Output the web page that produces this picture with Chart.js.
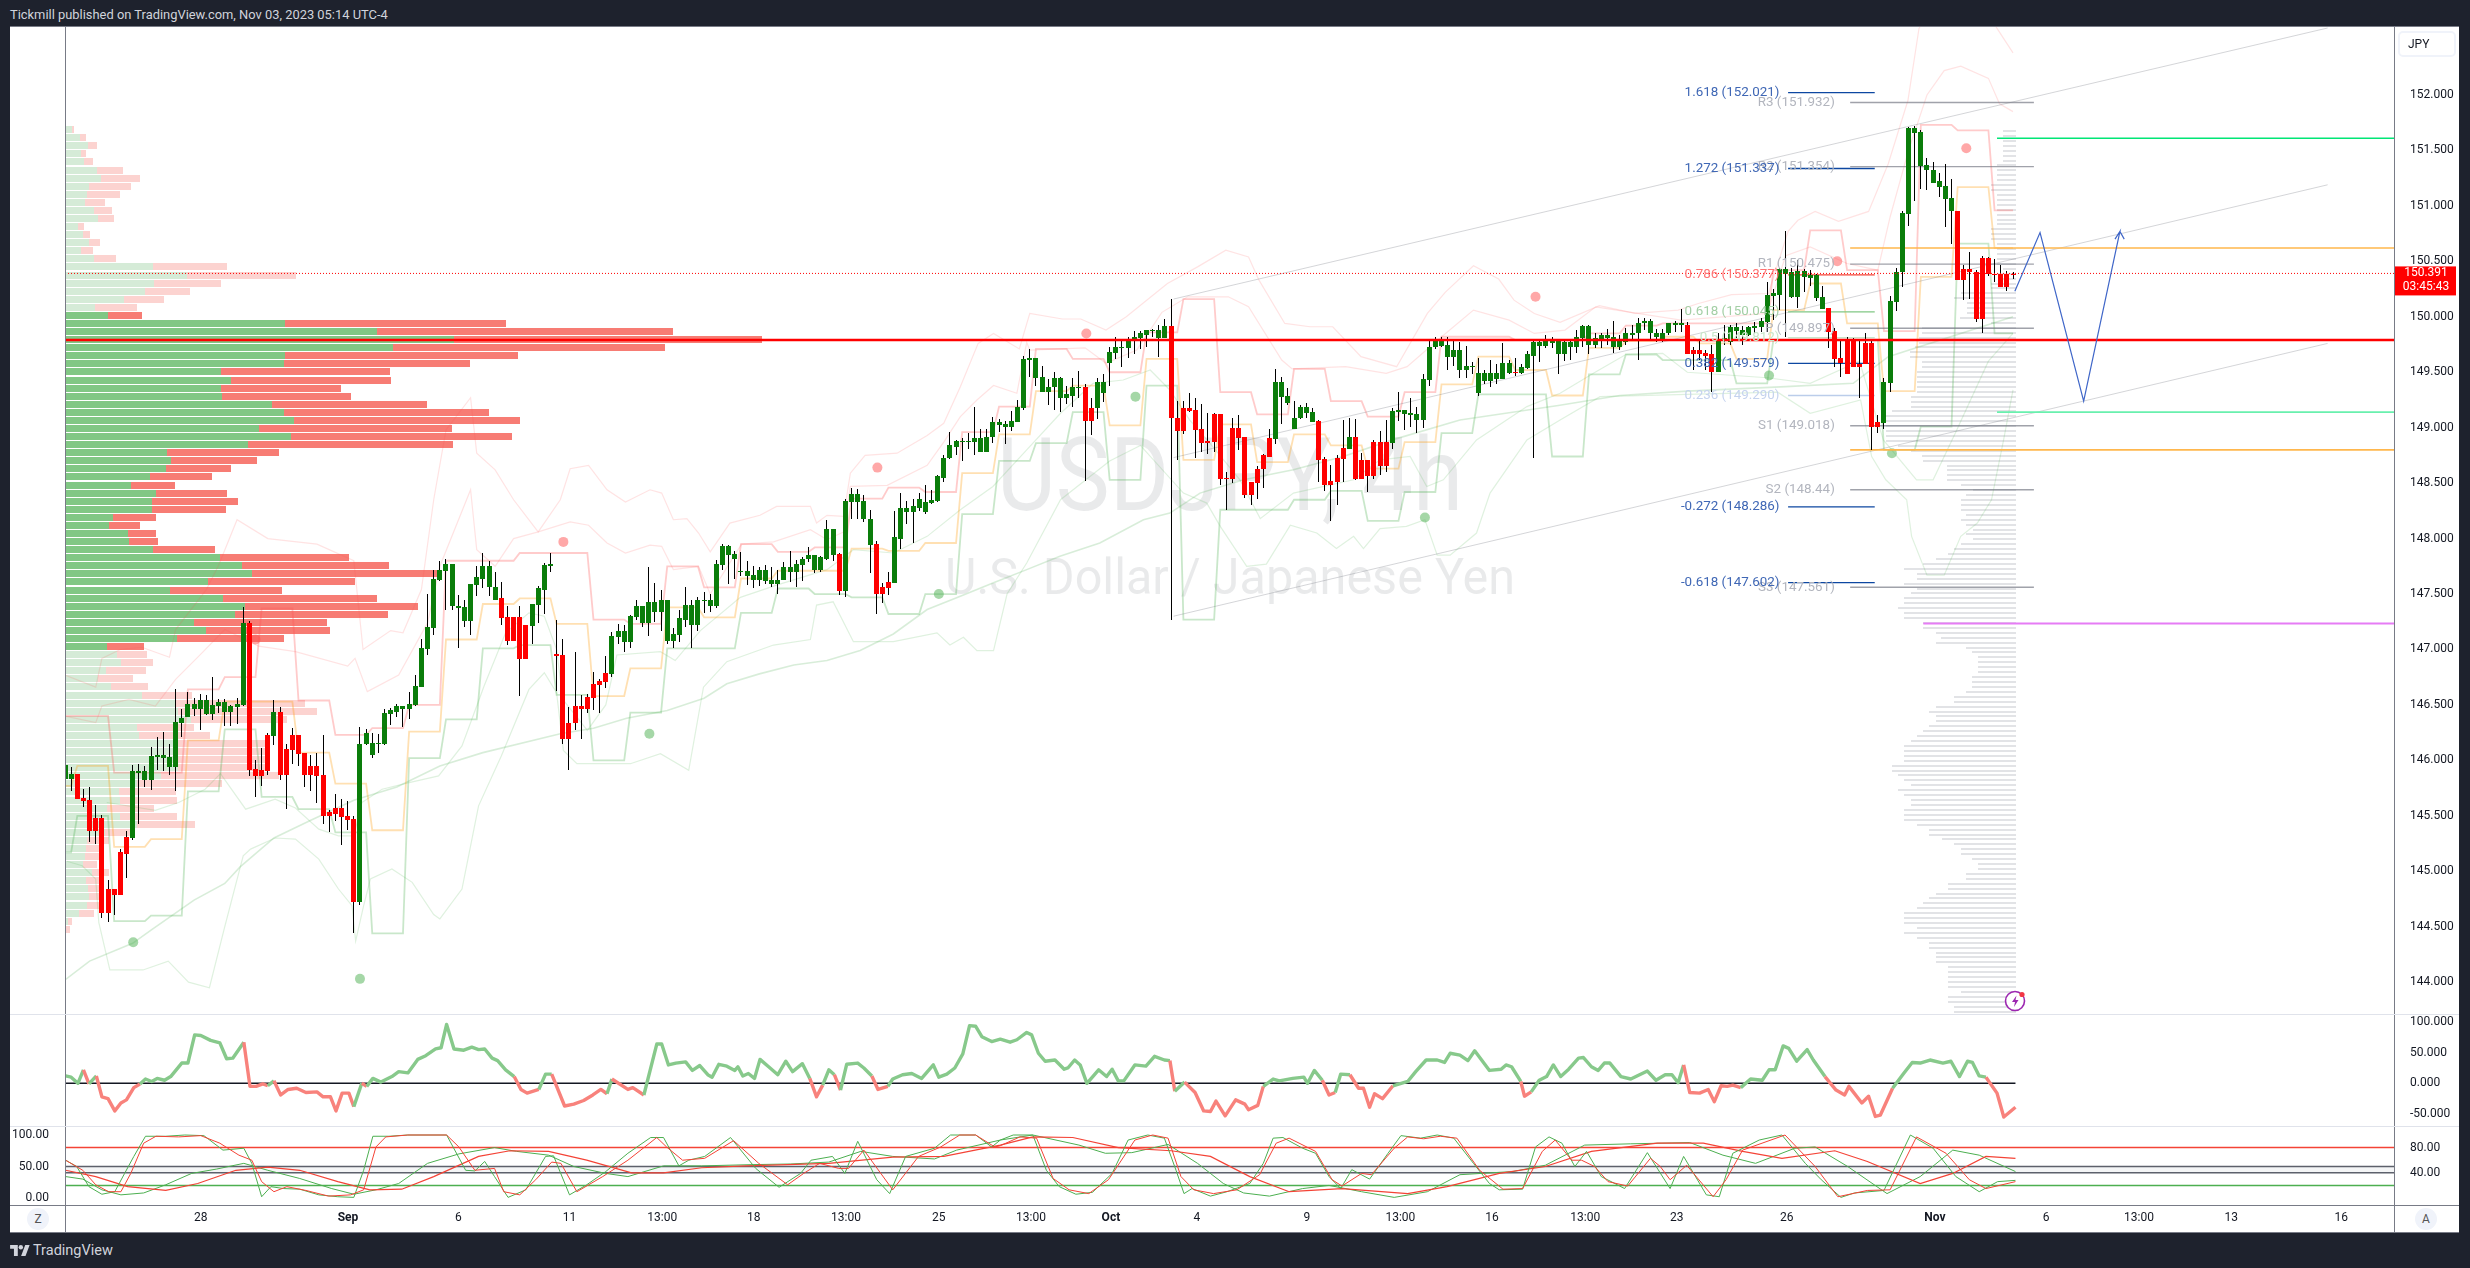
<!DOCTYPE html>
<html>
<head>
<meta charset="utf-8">
<style>
html,body{margin:0;padding:0;width:2470px;height:1268px;overflow:hidden;background:#1e222d;font-family:Roboto,Arial,sans-serif}
#panel{position:absolute;left:10px;top:27px;width:2449px;height:1205px;background:#fff}
canvas{position:absolute;display:block}
.ln{position:absolute;z-index:8}
.t{position:absolute;white-space:nowrap}
</style>
<script src="https://cdn.jsdelivr.net/npm/chart.js@4"></script>
</head>
<body>
<div class="t" style="left:10px;top:6px;font-size:12.9px;line-height:18px;color:#d1d4dc">Tickmill published on TradingView.com, Nov 03, 2023 05:14 UTC-4</div>
<div id="panel"></div>
<canvas id="cVP" width="2449" height="987" style="left:11px;top:27px;z-index:1"></canvas>
<canvas id="cPrice" width="2449" height="987" style="left:11px;top:27px;z-index:2"></canvas>
<canvas id="cCci" width="2449" height="112" style="left:11px;top:1014px;z-index:2"></canvas>
<canvas id="cStoch" width="2449" height="105" style="left:11px;top:1127px;z-index:2"></canvas>
<div class="ln" style="left:10px;top:26px;width:2449px;height:1px;background:#787b86"></div>
<div class="ln" style="left:65px;top:27px;width:1px;height:1205px;background:#787b86"></div>
<div class="ln" style="left:2394px;top:27px;width:1px;height:1205px;background:#787b86"></div>
<div class="ln" style="left:10px;top:1014px;width:2449px;height:1px;background:#e0e3eb"></div>
<div class="ln" style="left:10px;top:1126px;width:2449px;height:1px;background:#e0e3eb"></div>
<div class="ln" style="left:10px;top:1205px;width:2449px;height:1px;background:#787b86"></div>
<div class="ln" style="left:10px;top:1232px;width:2449px;height:1px;background:#787b86"></div>
<div class="t" style="z-index:9;left:2398px;top:31px;width:58px;height:26px;border:2px solid #f0f3fa;border-radius:5px;box-sizing:border-box;font-size:12px;line-height:22px;color:#131722;padding-left:8px">JPY</div>
<div class="t" style="z-index:9;left:27px;top:1208px;width:22px;height:22px;border-radius:11px;background:#f0f3fa;font-size:12px;line-height:22px;color:#555;text-align:center">Z</div>
<div class="t" style="z-index:9;left:2415px;top:1208px;width:22px;height:22px;border-radius:11px;background:#f0f3fa;font-size:12px;line-height:22px;color:#555;text-align:center">A</div>
<svg style="position:absolute;z-index:9;left:2004px;top:989px" width="24" height="24" viewBox="0 0 24 24"><circle cx="11" cy="12" r="9.5" fill="#fff" stroke="#9c27b0" stroke-width="1.6"/><path d="M12.5 6.5 8 13h3l-1 5 4.5-7h-3z" fill="#9c27b0"/><circle cx="18" cy="5.5" r="2.6" fill="#f23645"/></svg>
<svg style="position:absolute;left:10px;top:1245px" width="20" height="11" viewBox="0 0 36 20"><path d="M14 20H7V7H0V0h14v20zM28 20h-8l7.500-20h8z" fill="#d1d4dc"/><circle cx="19.500" cy="4" r="4" fill="#d1d4dc"/></svg>
<div class="t" style="left:33px;top:1241px;font-size:14.500px;line-height:20px;color:#d1d4dc">TradingView</div>

<script>
// ---------- candles (USDJPY 4h) ----------
const open=[145.83,145.83,145.88,145.66,145.64,145.48,145.48,144.84,144.84,145.17,
145.31,145.30,145.89,145.82,145.82,146.03,146.02,145.94,145.94,146.34,
146.39,146.46,146.46,146.42,146.42,146.49,146.44,146.44,146.48,146.50,
147.24,145.92,145.91,146.23,146.22,146.44,146.10,146.23,146.23,146.07,
145.95,145.95,145.87,145.53,145.57,145.57,145.50,145.47,144.72,146.15,
146.05,146.15,146.15,146.42,146.44,146.46,146.46,146.50,146.66,147.00,
147.19,147.63,147.71,147.39,147.37,147.26,147.26,147.58,147.64,147.56,
147.45,147.46,147.29,147.29,147.29,147.22,147.21,147.40,147.54,147.75,
146.96,146.95,146.34,146.49,146.49,146.57,146.69,146.72,146.79,146.78,
147.11,147.07,147.07,147.29,147.24,147.24,147.34,147.34,147.08,147.08,
147.13,147.27,147.22,147.22,147.44,147.39,147.39,147.76,147.85,147.82,
147.70,147.66,147.63,147.63,147.62,147.59,147.59,147.63,147.70,147.70,
147.76,147.82,147.72,147.72,147.82,147.85,147.86,147.53,148.33,148.33,
148.18,147.94,147.95,147.56,147.61,147.60,148.00,148.24,148.24,148.28,
148.24,148.32,148.34,148.55,148.73,148.83,148.87,148.87,148.87,148.78,
148.78,148.92,149.02,149.01,149.01,149.05,149.18,149.61,149.45,149.32,
149.32,149.37,149.27,149.27,149.29,149.36,149.37,149.18,149.18,149.31,
149.58,149.67,149.72,149.72,149.79,149.81,149.84,149.87,149.81,149.81,
149.92,149.09,149.18,149.18,149.16,148.99,148.88,149.12,149.12,148.55,
149.00,149.00,148.92,148.51,148.63,148.75,148.91,148.90,149.28,149.22,
148.99,149.09,149.13,149.05,149.06,148.72,148.52,148.73,148.82,148.81,
148.92,148.71,148.71,148.87,148.87,148.87,148.86,149.14,149.12,149.11,
149.07,149.07,149.43,149.73,149.74,149.64,149.64,149.52,149.52,149.55,
149.31,149.42,149.42,149.44,149.44,149.49,149.50,149.49,149.54,149.65,
149.74,149.74,149.76,149.66,149.66,149.73,149.73,149.81,149.75,149.75,
149.80,149.81,149.73,149.73,149.77,149.84,149.85,149.94,149.85,149.82,
149.80,149.85,149.93,149.93,149.93,149.70,149.70,149.67,149.66,149.50,
149.79,149.77,149.87,149.84,149.84,149.90,149.91,149.95,150.19,150.20,
150.39,150.18,150.18,150.36,150.35,150.17,150.07,150.08,149.87,149.63,
149.80,149.80,149.57,149.76,149.76,149.05,149.04,149.40,150.13,150.40,
150.93,151.66,151.36,151.32,151.21,151.17,151.06,150.95,150.95,150.43,
150.43,150.40,150.53,150.53,150.39,150.39,150.39,150.39];
const close=[145.96,145.88,145.65,145.63,145.36,145.36,144.62,144.62,144.79,144.79,
145.16,145.90,145.90,145.90,146.04,146.05,146.05,146.03,146.35,146.38,
146.51,146.51,146.54,146.54,146.50,146.53,146.53,146.49,146.51,147.24,
145.91,145.86,145.86,145.90,146.44,145.87,145.87,146.09,146.06,145.87,
145.87,145.86,145.50,145.50,145.52,145.49,145.46,144.72,146.15,146.25,
146.16,146.16,146.43,146.45,146.49,146.49,146.51,146.67,147.01,147.20,
147.64,147.72,147.77,147.77,147.39,147.38,147.59,147.65,147.75,147.75,
147.56,147.28,147.08,147.08,146.91,146.91,147.41,147.55,147.76,147.77,
146.94,146.19,146.19,146.34,146.46,146.46,146.56,146.68,146.71,147.12,
147.17,147.17,147.30,147.39,147.39,147.43,147.43,147.45,147.45,147.14,
147.28,147.40,147.40,147.45,147.45,147.45,147.77,147.93,147.93,147.86,
147.71,147.71,147.67,147.72,147.72,147.63,147.63,147.74,147.74,147.77,
147.82,147.85,147.85,147.83,148.09,148.09,147.53,148.34,148.40,148.40,
148.34,148.18,147.50,147.50,147.55,148.01,148.28,148.28,148.29,148.36,
148.33,148.35,148.56,148.73,148.84,148.88,148.88,148.88,148.91,148.91,
148.92,149.05,149.05,149.03,149.06,149.19,149.62,149.63,149.63,149.46,
149.37,149.45,149.45,149.30,149.37,149.37,149.06,149.06,149.41,149.41,
149.68,149.73,149.73,149.80,149.82,149.85,149.88,149.88,149.88,149.92,
149.09,148.97,148.97,149.15,148.98,148.86,148.86,148.87,148.54,148.54,
148.54,148.91,148.39,148.39,148.50,148.63,148.74,149.41,149.41,149.29,
149.09,149.19,149.19,149.14,148.71,148.48,148.48,148.51,148.72,148.92,
148.54,148.54,148.56,148.56,148.65,148.65,149.15,149.16,149.16,149.13,
149.12,149.44,149.73,149.80,149.80,149.75,149.70,149.70,149.56,149.56,
149.49,149.49,149.49,149.49,149.58,149.58,149.49,149.55,149.66,149.77,
149.77,149.80,149.80,149.78,149.77,149.77,149.82,149.92,149.92,149.81,
149.84,149.84,149.82,149.78,149.85,149.85,149.94,149.96,149.96,149.85,
149.85,149.94,149.94,149.94,149.66,149.66,149.66,149.65,149.50,149.80,
149.81,149.91,149.91,149.88,149.91,149.92,149.96,150.20,150.21,150.43,
150.43,150.40,150.41,150.41,150.38,150.38,150.18,149.86,149.62,149.58,
149.48,149.55,149.55,149.57,149.01,149.01,149.41,150.14,150.40,150.94,
151.70,151.70,151.67,151.37,151.32,151.22,151.18,151.07,150.33,150.33,
150.40,149.98,149.98,150.39,150.38,150.27,150.27,150.38];
const high=[145.96,145.94,145.88,145.74,145.76,145.60,145.51,144.92,144.84,145.20,
145.36,145.96,145.97,145.95,146.12,146.21,146.26,146.15,146.64,146.46,
146.62,146.56,146.60,146.59,146.75,146.55,146.55,146.50,146.56,147.38,
147.26,146.00,146.11,146.25,146.54,146.48,146.15,146.29,146.23,146.07,
146.05,146.07,146.23,145.55,145.70,145.65,145.63,145.50,146.30,146.28,
146.25,146.24,146.46,146.47,146.51,146.49,146.62,146.77,147.09,147.50,
147.72,147.80,147.82,147.77,147.49,147.45,147.59,147.75,147.87,147.80,
147.70,147.61,147.39,147.29,147.39,147.22,147.41,147.57,147.78,147.87,
147.27,147.09,146.48,146.98,146.59,146.60,146.80,146.73,146.94,147.16,
147.23,147.22,147.31,147.45,147.39,147.74,147.60,147.54,147.45,147.19,
147.36,147.56,147.45,147.47,147.52,147.50,147.81,147.95,147.94,147.89,
147.88,147.80,147.75,147.74,147.76,147.74,147.72,147.79,147.89,147.81,
147.83,147.92,147.85,147.84,148.17,148.09,147.87,148.36,148.46,148.45,
148.39,148.26,147.98,147.60,147.70,148.25,148.41,148.34,148.36,148.41,
148.48,148.44,148.57,148.75,148.96,148.89,148.91,148.95,149.19,148.99,
148.99,149.10,149.08,149.06,149.15,149.25,149.65,149.71,149.63,149.56,
149.44,149.50,149.46,149.38,149.45,149.51,149.39,149.27,149.45,149.48,
149.73,149.82,149.79,149.82,149.87,149.87,149.88,149.89,149.93,149.98,
150.16,149.24,149.24,149.31,149.27,149.21,149.13,149.13,149.12,148.60,
149.09,149.11,148.92,148.51,148.65,148.76,148.99,149.53,149.46,149.36,
149.24,149.20,149.22,149.18,149.07,148.74,148.66,148.75,149.07,149.09,
149.08,148.77,148.71,148.89,148.97,149.07,149.18,149.32,149.16,149.27,
149.19,149.48,149.79,149.82,149.82,149.82,149.78,149.77,149.74,149.59,
149.63,149.52,149.61,149.57,149.76,149.61,149.63,149.57,149.69,149.79,
149.79,149.84,149.82,149.79,149.79,149.79,149.88,149.93,149.93,149.85,
149.85,149.89,149.96,149.84,149.90,149.93,149.99,149.99,149.98,149.89,
149.89,149.94,149.96,150.07,149.95,149.73,149.79,149.70,149.75,149.85,
149.93,149.93,149.94,149.92,149.92,149.95,149.99,150.31,150.25,150.44,
150.77,150.44,150.51,150.43,150.42,150.39,150.28,150.08,149.90,149.79,
149.82,149.81,149.79,149.85,149.80,149.11,149.45,150.19,150.44,150.95,
151.71,151.72,151.68,151.43,151.40,151.30,151.38,151.24,150.95,150.47,
150.58,150.42,150.55,150.54,150.52,150.47,150.41,150.40];
const low=[145.83,145.72,145.65,145.58,145.26,145.25,144.58,144.54,144.61,144.79,
144.94,145.28,145.43,145.76,145.73,145.91,145.90,145.87,145.72,146.21,
146.39,146.40,146.27,146.41,146.36,146.43,146.31,146.31,146.33,146.49,
145.86,145.67,145.77,145.87,146.14,145.82,145.56,145.97,145.95,145.76,
145.72,145.62,145.43,145.35,145.45,145.24,145.37,144.44,144.70,146.14,
146.02,146.07,146.14,146.32,146.39,146.30,146.37,146.49,146.66,146.95,
147.13,147.62,147.36,147.36,147.01,147.20,147.13,147.48,147.55,147.48,
147.45,147.22,147.04,147.08,146.58,146.91,147.05,147.24,147.32,147.70,
146.63,146.15,145.91,146.27,146.19,146.43,146.45,146.43,146.65,146.75,
147.05,146.98,147.01,147.27,147.20,147.12,147.25,147.17,147.05,147.01,
147.07,147.20,147.01,147.17,147.33,147.34,147.37,147.72,147.59,147.64,
147.66,147.58,147.55,147.57,147.59,147.56,147.50,147.63,147.61,147.56,
147.62,147.79,147.69,147.70,147.81,147.80,147.49,147.47,148.18,148.18,
148.15,147.69,147.32,147.42,147.49,147.60,147.91,148.13,147.96,148.25,
148.22,148.31,148.33,148.51,148.72,148.75,148.70,148.81,148.75,148.78,
148.78,148.86,148.96,148.85,148.97,149.05,149.16,149.46,149.38,149.32,
149.20,149.16,149.14,149.21,149.19,149.27,148.52,148.93,149.08,149.23,
149.38,149.62,149.55,149.63,149.66,149.71,149.73,149.82,149.64,149.81,
147.27,148.71,148.94,149.14,148.73,148.78,148.76,148.78,148.48,148.26,
148.50,148.80,148.37,148.30,148.36,148.46,148.74,148.85,149.03,149.20,
148.99,149.08,149.09,149.05,148.51,148.43,148.16,148.30,148.51,148.81,
148.53,148.54,148.42,148.54,148.57,148.60,148.81,149.06,148.98,149.01,
148.95,149.00,149.38,149.71,149.73,149.52,149.56,149.45,149.45,149.48,
149.29,149.39,149.37,149.39,149.44,149.48,149.47,149.48,149.53,148.73,
149.59,149.72,149.72,149.48,149.60,149.61,149.67,149.73,149.66,149.72,
149.72,149.75,149.67,149.70,149.75,149.79,149.61,149.88,149.79,149.77,
149.77,149.84,149.86,149.86,149.66,149.52,149.61,149.52,149.32,149.50,
149.75,149.75,149.79,149.75,149.83,149.85,149.86,149.86,149.97,150.06,
149.82,150.17,150.08,150.22,150.28,150.14,150.07,149.72,149.55,149.46,
149.48,149.55,149.27,149.57,148.80,148.95,148.99,149.32,150.05,150.27,
150.82,151.04,151.15,151.14,151.21,151.08,150.81,150.66,150.33,150.15,
150.16,149.95,149.85,150.37,150.31,150.27,150.23,150.34];

// ---------- axis ticks ----------
const priceTicks=[152,151.5,151,150.5,150,149.5,149,148.5,148,147.5,147,146.5,146,145.5,145,144.5,144];
const cciTicks=[100,50,0,-50];
const stochLeftTicks=[100,50,0];
const stochRightTicks=[80,40];
const timeTickPos=[22.1,46.05,64,82.1,97.2,112.1,127.1,142.2,157.2,170.2,184.2,202.1,217.3,232.2,247.4,262.3,280.2,304.3,322.4,337.5,352.5,370.4];
const timeTickLabels=['28','Sep','6','11','13:00','18','13:00','25','13:00','Oct','4','9','13:00','16','13:00','23','26','Nov','6','13:00','13','16'];
const boldTimeLabels=['Sep','Oct','Nov'];

// ---------- daily channel steps ----------
const dayStarts=[0,2,8,14,20,26,32,38,44,50,56,62,68,74,80,86,92,98,104,110,116,122,128,134,140,146,152,158,164,170,176,182,188,194,200,206,212,218,224,230,236,242,248,254,260,266,272,278,284,290,296,302,308,314];
const upperStep=[146.40,146.40,145.89,145.89,146.64,146.75,147.37,146.54,146.23,146.29,146.50,147.80,147.80,147.87,147.87,147.27,147.23,147.75,147.56,147.95,147.88,147.92,148.36,148.46,148.42,148.96,149.19,149.71,149.62,149.50,149.86,150.16,149.32,149.12,149.53,149.24,149.10,149.32,149.82,149.82,149.79,149.79,149.85,149.92,149.94,149.94,149.94,150.42,150.78,150.42,149.87,151.73,151.68,150.96];
const middleStep=[145.77,145.95,145.22,145.29,146.18,146.53,146.53,146.07,145.79,145.37,146.26,147.09,147.41,147.46,147.23,146.58,146.83,147.38,147.29,147.64,147.71,147.71,147.91,147.89,147.96,148.59,148.94,149.33,149.38,149.02,149.62,148.71,149.03,148.69,148.94,148.84,148.63,148.87,149.39,149.64,149.52,149.29,149.72,149.78,149.82,149.76,149.62,150.06,150.30,149.94,149.33,150.36,151.17,150.62];
const lowerStep=[145.17,145.50,144.55,144.60,145.72,146.28,145.67,145.56,145.35,144.44,146.02,146.37,147.01,147.04,146.59,146.00,146.43,147.01,147.01,147.33,147.55,147.50,147.47,147.32,147.50,148.22,148.70,148.86,149.14,148.53,149.38,147.27,148.26,148.26,148.35,148.43,148.16,148.42,148.95,149.30,149.30,148.74,149.48,149.66,149.61,149.61,149.40,149.79,149.79,149.79,148.80,149.01,150.66,149.85];

// ---------- pale bands ----------
const outerUpX=[0,5,6,9,12.5,17,18,23,25,28,33,41,47,48.5,53,55,58,60,62,66,67,70,73,77,80.6,82.2,85.2,88.2,91.2,95.2,97.1,99,101.2,103.1,105,108.2,113.1,115.8,121.3,122.3,124,126.7,127.8,130.2,135.4,140.3,143,145.7,148.6,151.1,155.3,157,162.3,165.3,169.4,172.7,179.4,184.3,188.9,192.6,194.3,198.5,202.6,206.3,210.9,216.7,221.7,224.6,229.2,233.3,235.8,239.1,243.3,249.7,255.5,262.5,265.8,271.2,277.2,280.4,282,284.8,288.6,293.5,296.7,299.9,301.7,308,314.4,317];
const outerUpY=[146.77,146.66,146.92,147.00,147.02,146.93,147.18,147.54,147.76,148.17,148.00,147.95,147.80,147.00,147.17,147.15,147.54,148.35,148.98,149.27,148.77,148.62,148.35,148.06,148.35,148.63,148.66,148.44,148.33,148.44,148.41,148.17,148.18,148.05,147.88,148.14,148.21,148.29,148.29,148.14,148.21,148.20,148.59,148.75,148.77,148.93,149.04,149.37,149.76,149.85,149.71,150.03,149.98,149.98,149.88,150.00,150.30,150.45,150.60,150.54,150.33,149.94,149.91,149.91,149.64,149.55,150.03,150.22,150.46,150.34,150.15,150.03,149.95,150.10,150.03,150.06,150.12,150.20,150.21,150.77,150.87,150.95,150.86,150.95,151.38,151.95,152.60,153.20,152.60,152.38];
const innerUpX=[0,5,6,10.4,14.7,18,22.3,26,31.5,37.5,46,47.2,49.2,54.3,59,61,66,67,70,73,77,82.2,85.2,88.2,91.2,95.2,97.1,99,103.1,105,110.1,115.3,121.3,124,126.7,127.8,133.8,140.3,143,145.7,148.4,151.1,154.9,156.5,157,166,169.4,174.4,178.5,182.7,189.3,192.6,198,199.7,208.4,215,218.4,223.4,229.2,235,239.1,244.1,249.1,263,277,280,284,290,295,297,300,303,305.8,308.5,313,314.8,317];
const innerUpY=[146.40,146.34,146.49,146.55,146.49,146.73,146.97,147.18,147.03,146.98,146.85,146.92,146.62,146.77,147.24,147.75,148.44,147.90,147.75,148.00,148.06,148.15,148.12,147.96,147.87,147.94,147.93,147.72,147.75,147.50,147.95,147.97,148.08,147.99,148.06,148.47,148.48,148.66,148.87,149.10,149.25,149.38,149.31,149.77,149.70,149.72,149.58,149.70,150.04,150.18,150.18,150.09,149.61,149.53,149.55,149.49,149.55,149.79,150.06,149.97,149.85,149.88,150.09,149.97,150.03,150.55,150.63,150.48,150.42,150.90,151.50,152.00,152.22,152.26,152.15,151.92,151.85];
const outerLowX=[0.3,2.8,5,5.5,7.3,12.7,16.8,20.1,23.5,26,29,30.2,34.2,37.5,41.3,44.5,46.7,47.3,48.6,49.7,53.2,56.5,60,61,64.6,67.3,71,75.500,78,80,81.1,83.3,92,96.9,101.5,103.9,107.7,115.3,121.3,122.3,125,128.3,134.8,141.9,144,146.2,148.4,151.1,153.3,156.5,162,170,175,182,185.8,188,192.3,195.5,199.4,203.7,206.9,209.7,211.3,214,218.3,221.3,223.3,225.4,229.7,231.9,237.9,243.3,249.8,264,278.7,284,292.2,294,296.3,299.7,300.5,303,305.8,308.5,311.2,313.5,315.5,317];
const outerLowY=[145.09,145.05,144.93,144.54,144.11,144.11,144.19,144.00,143.95,144.50,145.14,145.20,145.30,145.29,145.11,144.84,144.69,144.37,144.69,144.93,145.02,144.90,144.61,144.57,144.84,145.59,146.04,146.64,146.79,146.61,146.09,145.97,145.97,146.06,145.91,146.66,146.89,147.04,147.09,147.40,147.43,147.07,147.07,147.15,147.04,147.11,146.99,146.99,147.50,147.78,148.35,148.70,148.84,148.41,148.32,148.11,147.75,147.77,148.12,148.05,147.91,148.02,147.91,148.09,148.11,148.17,147.85,147.85,148.05,148.41,148.89,149.07,149.28,149.30,149.32,149.13,149.25,148.74,148.53,148.35,148.02,147.67,147.67,148.02,148.14,148.35,148.90,149.34];
const innerLowX=[6.8,14.7,18.5,22.8,25.3,29.4,34.2,37.5,41.3,44.5,47,48.3,51.6,56,60.8,64.6,68.2,71.7,75.5,78,80,81,85,88,89.8,96.9,99.3,103.4,109.9,115.8,124,128.3,134.8,140.3,145.7,151,156.5,162,167.3,172.2,176.6,179.8,183,186.3,191.2,194.5,199.9,209.7,214,218.9,221.6,224.3,229.7,237.9,243.3,249,254,260,264,277,284,290,292,295.9,301.3,304,307.6,313,317];
const innerLowY=[145.62,145.55,145.62,145.74,145.88,145.56,145.65,145.57,145.38,145.32,145.32,145.62,145.74,145.80,145.86,146.13,146.67,147.15,147.33,147.30,147.00,146.55,146.27,146.50,146.95,146.98,146.90,147.17,147.47,147.58,147.72,147.90,147.87,148.02,148.26,148.47,148.80,149.13,149.40,149.43,149.52,149.34,149.07,148.86,148.53,148.18,148.41,148.53,148.71,148.74,148.47,148.53,148.89,149.19,149.31,149.50,149.66,149.67,149.50,149.45,149.40,149.55,149.60,148.89,148.53,148.53,148.95,149.60,149.85];
const maX=[0,4,11,14,21,26,28.5,34,40,47,54,61,68,80.6,86,91.4,98,104,107.7,113,118.6,124,129.4,134.8,140.3,145.7,151,156.5,161.9,168.4,175.5,179.8,184.7,191.8,199.9,208,216,227,243,253,264,280,291,296.7,317];
const maY=[144.02,144.19,144.35,144.47,144.74,144.89,145.04,145.30,145.46,145.64,145.76,145.95,146.07,146.24,146.29,146.38,146.45,146.56,146.69,146.78,146.86,146.90,146.99,147.14,147.36,147.48,147.60,147.72,147.84,147.96,148.17,148.23,148.41,148.53,148.62,148.74,148.89,149.07,149.20,149.29,149.33,149.37,149.40,149.64,150.00];

// ---------- swing dots ----------
const swingHighX=[31,81.1,132.2,166.2,239.3,288.4,309.4];
const swingHighY=[147.09,147.97,148.64,149.85,150.18,150.50,151.52];
const swingLowX=[11.1,48,95.1,142.2,174.2,221.3,277.3,297.3];
const swingLowY=[144.36,144.03,146.24,147.50,149.28,148.19,149.47,148.77];

// ---------- levels and drawings ----------
const pivotNames=['R3','R2','R1','P','S1','S2','S3'];
const pivotValues=[151.932,151.354,150.475,149.897,149.018,148.44,147.561];
const fibNames=['1.618','1.272','0.786','0.618','0.5','0.382','0.236','-0.272','-0.618'];
const fibValues=[152.021,151.337,150.377,150.045,149.812,149.579,149.290,148.286,147.602];
const fibLabelColors=['#3f67b5','#3f67b5','#ff7373','#a3cfa5','#c8e6c9','#3f67b5','#c5d3ee','#3f67b5','#3f67b5'];
const fibLineColors=['#0d47a1','#0d47a1','#f44336','#81c784','#c8e6c9','#0d47a1','#bbcdea','#0d47a1','#0d47a1'];
const lastPrice=150.391, pocPrice=149.79;
const countdownText='03:45:43';
const rayStartX=[314.4,314.4,290.5,290.5,302.4];
const rayPrices=[151.61,149.14,150.62,148.80,147.235];
const rayColors=['#00e676','#69f0ae','#ffb74d','#ffb74d','#e67cf5'];
const channelStartX=180.4, channelEndX=368.2;
const channelStartY=[150.16,148.73,147.30];
const channelEndY=[152.604,151.19,149.76];
const forecastX=[317.3,321.4,328.5,334.4,333.6,334.4,335.1];
const forecastY=[150.23,150.76,149.24,150.77,150.70,150.77,150.70];

// ---------- left volume profile ----------
const profileTop=151.687, profileStep=0.07283;
const valueAreaFirst=23, valueAreaLast=64;
const profileUp=[7,15,23,16,19,32,36,24,22,20,29,33,13,18,24,16,29,88,122,89,80,59,30,43,220,312,389,328,220,219,156,166,156,157,207,219,229,194,226,183,102,106,101,85,66,91,87,87,48,44,63,64,88,155,177,187,143,105,158,180,170,129,141,112,42,52,56,41,33,46,77,111,113,126,72,74,113,113,113,113,96,72,54,55,42,55,72,40,22,21,20,18,27,21,23,24,22,14,3,1];
const profileDown=[2,6,9,5,9,26,39,42,33,20,18,16,6,7,11,12,22,74,109,67,45,40,42,34,221,296,308,272,233,186,169,160,120,129,155,205,226,193,221,205,112,86,65,62,44,71,86,74,43,31,28,29,62,129,147,185,147,112,154,173,153,133,124,107,37,30,32,40,35,37,50,129,139,96,57,71,89,89,89,89,118,85,57,57,47,57,58,25,22,13,15,14,17,14,12,14,14,15,4,4];

// ---------- right (grey) volume profile ----------
const greyTop=151.675, greyStep=0.04436;
const greyVolume=[13,13,13,13,13,13,13,19,19,19,19,25,25,19,19,19,19,19,19,19,25,25,25,19,19,19,19,19,13,19,13,25,25,55,62,49,49,49,56,25,94,94,97,97,101,106,106,94,94,99,99,99,99,99,105,105,105,124,130,130,130,130,130,130,118,105,94,93,69,69,69,69,55,43,50,
55,55,55,50,55,50,43,50,43,55,62,68,80,93,112,99,99,112,99,105,112,112,118,112,112,93,93,80,75,80,50,44,38,38,38,38,44,44,44,50,62,62,80,87,80,80,87,93,99,105,112,112,112,112,124,124,118,112,105,118,112,105,105,112,112,112,99,87,87,74,62,55,55,44,38,38,50,50,68,68,80,87,93,99,112,112,112,99,112,99,87,87,80,80,80,68,68,68,68,68,55,68,68,62,62];

// ---------- CCI-style oscillator ----------
const cciX=[0.1,1,2.1,3,3.9,5.1,6,7,8.1,9.1,10,11.2,12.2,13.1,14.1,15,16.2,17.2,19,20,21.1,22.1,23.7,25.2,26.3,27.3,29.1,30.1,31.1,32.2,33,34,35.1,36.3,37.7,39.2,41,42,43.2,44.1,45.1,46.2,47,48.3,49.1,50.1,51.4,53.2,54.3,55.8,57.4,58.7,60.3,61.2,62.1,63.3,64.9,66.2,67.3,68.3,69.5,70.4,71.7,73.1,74.2,75.2,77.1,78.2,79.2,81.3,82.8,84.4,85.9,87.2,88.2,89,91.6,92.4,94.2,96.3,97.1,98.2,99.4,101,102.1,103.3,104.6,105.3,106.4,107.7,109,109.5,110.3,111.2,112.2,113.1,114.5,116,117.3,118.4,120,121.2,122.3,123.3,124.3,125.2,126.2,127.2,129,130,131.3,132.3,133.9,134.7,136.3,137.8,139.4,141.3,142.2,143.5,144.8,146.1,147.2,148.2,149.2,150.8,
152.2,153.8,154.9,156.5,157.3,158.4,159.5,161.1,162.6,163.2,164.3,165.2,166.3,168.2,169.5,170.4,171.4,172.3,174.1,175.9,177.3,178.9,179.8,180.6,182.2,183.9,185.3,186.4,187.3,188.8,190.5,192,192.6,194.1,195,196.6,197.6,199.8,201.6,202.2,203.3,204.6,205.7,206.7,207.6,209.1,210.5,211.3,212.3,213.1,214.4,216.1,218.5,219.8,221.5,223.3,224.5,225.4,227,228.3,229.4,231.8,233.7,234.5,235.4,236.9,237.5,238.6,239.9,241.1,242.2,243.4,244.7,246.3,247.1,248.4,249.5,250.5,251.4,253.2,254.8,257.5,258.9,260.4,261.5,262.5,263.4,264.4,266,267.4,268.4,269.5,270.5,271.4,272.7,274.3,276.2,277.3,278.3,279.6,280.5,281.8,283.5,284.5,286.4,288.2,289.6,290.3,292.4,293.5,294.6,295.4,297.4,299.2,300.6,301.9,303.5,305.6,306.9,308.3,309.6,310.4,311.5,312.6,314.4,315.5,317.4];
const cciY=[12,10,0,22,-1,12,-22,-25,-45,-32,-27,-7,-1,7,3,8,5,11,33,33,79,78,70,66,40,41,67,-5,-5,-1,-4,4,-19,-10,-8,-15,-14,-22,-22,-45,-16,-16,-38,0,-5,8,2,11,19,17,39,45,56,58,96,56,54,59,55,56,41,37,22,11,-10,-16,-10,15,15,-37,-34,-28,-19,-10,-17,7,-10,-7,-19,64,64,30,33,35,21,29,14,10,31,28,21,27,12,16,8,39,27,14,36,19,32,8,-22,-3,22,14,-11,31,33,25,12,-10,-5,7,14,16,8,30,10,15,25,48,94,93,76,68,
72,67,71,83,79,49,36,38,23,25,38,30,0,22,11,23,4,4,30,28,44,38,37,-13,2,-15,-45,-46,-29,-53,-27,-34,-43,-36,-5,7,4,8,10,0,21,5,-19,-15,15,14,-8,-8,-39,-17,-25,-4,3,19,38,38,34,49,46,37,53,21,23,30,27,3,-21,-14,5,11,30,11,23,41,42,27,21,33,33,11,7,20,5,14,14,1,30,-15,-16,-10,-30,-4,-5,-3,-7,7,5,22,22,61,57,36,55,38,11,-11,-19,-5,-32,-21,-54,-52,-8,16,34,33,38,33,36,11,36,34,12,10,-16,-55,-39];

// ---------- stochastics ----------
const fastGreenX=[0.1,1.9,3.9,6,8.1,9.7,11.2,13.1,16.4,19.5,22.6,25.7,29.1,30.4,32,33.5,35.6,38.2,41.3,44.4,47,48.6,50.1,52.7,55.8,62.1,65.2,66.7,68.3,69.9,72.1,75,78.2,79.5,82.1,84.9,88,91.6,95.3,97.4,99.9,101.5,104.1,108.3,112.4,116.2,119.7,121.4,124.9,126.9,129,132.1,134.2,136.8,141.5,144.1,148.2,150.8,152.2,154.3,157.5,159.7,161.8,164.5,167.2,170.4,173,176.2,178.9,180.8,182.1,183.4,186.4,189.1,192.8,195,196.6,198.2,201.4,203.5,205.7,207.6,209.4,212.3,215.3,217.4,220.6,223.3,226,229.2,231.8,233.4,237.2,239.3,241.5,243.6,245.7,247.6,250,253.8,257.5,261.2,263.4,267.1,269.2,271.4,275.7,279.4,283.2,285.8,289,291.2,296,300.3,304,307.7,311.5,314.5,317.4];
const fastGreenY=[60,50,18,6,10,39,66,98,98,100,99,76,79,55,2,18,15,14,5,2,1,44,98,98,100,100,44,43,58,34,1,13,66,67,5,21,42,71,96,96,51,60,66,96,47,17,39,60,66,39,90,29,7,66,79,100,100,81,92,100,100,44,18,6,9,39,92,100,95,44,7,15,3,10,23,55,95,96,79,71,34,15,45,30,71,99,95,100,95,55,23,13,14,81,97,87,50,74,34,15,72,15,66,5,2,71,92,100,55,29,1,8,12,100,79,34,10,26,28];
const fastRedX=[0.1,2.9,5,7.1,9.1,10.7,12.8,14.8,18.5,22.1,25.2,28.3,30.4,32,34,36.1,39.2,42.9,46.5,48.6,50.6,52.2,55.8,62.1,64.1,66.7,69.9,71.4,74,76.6,79.2,80.7,83.3,87.5,91.6,96.3,97.9,100.5,104.1,108.8,112.9,117.6,120.2,122.8,125.9,127.5,130,134.7,138.9,142.5,145.6,148.2,151.3,152.2,155.4,158.1,160.8,163.4,166.6,169.8,174.1,177,179.5,181.6,183.7,186.9,190.7,194.4,197.1,199.2,203.5,206.2,207.8,211,212.6,216.3,218.5,221.1,223.8,226.5,230.2,234,237.2,240.4,242.5,245.2,246.8,248.9,251.1,254.3,258,259.6,261.2,263.9,268.2,270.3,273,279.9,284.8,288.5,293.3,297,301.3,306.1,309.9,312.6,317.4];
const fastRedY=[60,44,21,10,10,39,87,98,97,99,87,68,60,26,10,18,12,3,5,13,81,97,100,100,81,44,47,10,5,29,57,55,10,34,60,96,81,60,63,91,55,21,39,55,47,47,76,13,66,81,100,100,81,83,97,95,31,13,7,29,92,100,95,34,13,7,13,37,87,95,74,29,19,39,37,79,97,94,98,95,44,14,15,74,92,60,60,50,26,19,63,50,29,52,2,29,76,100,50,2,12,13,97,71,29,15,26];
const slowGreenX=[0.1,2.9,6,9.1,12.8,16.4,20.6,24.7,29.1,33,38.2,43.4,47,50.6,54.3,59,64.1,69.9,73.5,78.7,82.8,88,91.6,97.4,103.6,111.9,118.1,124.3,129.5,134.7,141.5,145.1,152.2,157.5,165,169.3,173.6,179.5,184.3,188.5,191.8,196,201.4,205.7,211,216.3,221.7,227,235.6,240.9,247.3,254.8,264.4,269.8,275.1,281.5,284.8,290.1,296.5,301.9,307.2,311.5,317.4];
const slowGreenY=[34,30,13,5,8,21,39,46,55,44,31,15,6,13,23,55,70,80,74,68,50,39,34,51,51,53,54,57,74,66,62,76,92,100,84,71,72,85,55,23,8,3,15,20,10,1,10,37,42,52,84,86,88,68,55,79,81,50,7,34,76,68,42];
const slowRedX=[0.1,5,10.2,16.4,21.6,27.8,33,38.2,44.4,49.6,54.8,60,67.3,72.4,78.7,84.9,92.2,97.4,103.6,110.8,124.3,134.7,143,152.2,157.5,164,171.4,180,186.4,192.8,199.2,207.8,218.5,224.9,233.4,240.9,248.4,259.1,266.6,273,279.4,288,293.3,301.9,307.2,312.6,317.4];
const slowRedY=[44,34,18,12,23,44,49,44,26,13,14,34,66,75,74,60,40,40,48,51,55,65,66,84,97,96,80,75,66,34,10,15,7,18,39,50,74,87,87,74,63,75,58,23,39,66,63];
const stochBands=[80,50,40,20];

// ---------- helpers ----------
const FONT='Roboto, "Noto Sans", sans-serif';
const TEXT='#131722';
const XMAX=379;
const pairs=(xs,ys)=>xs.map((x,i)=>({x,y:ys[i]}));
const stepPts=levels=>{const p=[];dayStarts.forEach((s,i)=>{const e=i+1<dayStarts.length?dayStarts[i+1]-1:open.length-1;p.push({x:s,y:levels[i]},{x:e,y:levels[i]});});return p;};
const lineDs=(data,color,width,order,extra)=>Object.assign({type:'line',data,borderColor:color,borderWidth:width,pointRadius:0,tension:0,fill:false,order},extra||{});
const flat=(x0,x1,y)=>[{x:x0,y},{x:x1,y}];
const noPad=s=>{s.paddingTop=0;s.paddingBottom=0;s.paddingLeft=0;s.paddingRight=0;};
const fixedWidth=w=>scale=>{scale.width=w;noPad(scale);};
const setTicks=list=>scale=>{scale.ticks=list.map(value=>({value}));};
const isUp=i=>close[i]>=open[i];

const crisp={id:'crisp',afterDatasetsUpdate(chart){
  chart.data.datasets.forEach((ds,k)=>{
    if((ds.type||chart.config.type)!=='bar')return;
    chart.getDatasetMeta(k).data.forEach(e=>{
      if(chart.options.indexAxis==='y'){
        const t=ds.barThickness;
        e.y=t%2?Math.floor(e.y)+.5:Math.round(e.y);
        e.x=Math.round(e.x);e.base=Math.round(e.base);
      }else{
        e.x=Math.floor(e.x)+.5;
        e.y=Math.round(e.y);e.base=Math.round(e.base);
        if(e.y===e.base)e.base=e.y+1;
      }
    });
  });
}};

const priceLabels={id:'priceLabels',
  beforeDatasetsDraw(chart){
    const c=chart.ctx;
    c.save();c.fillStyle='rgba(42,46,57,0.1)';c.textAlign='center';c.textBaseline='alphabetic';
    c.font='102px '+FONT;c.fillText('USDJPY, 4h',1219,483,466);
    c.font='50px '+FONT;c.fillText('U.S. Dollar / Japanese Yen',1219,567,570);
    c.restore();
  },
  afterDatasetsDraw(chart){
    const c=chart.ctx,x=chart.scales.x,y=chart.scales.y;
    c.save();c.textAlign='right';c.textBaseline='middle';c.font='13.4px '+FONT;
    pivotNames.forEach((n,i)=>{c.fillStyle='#b2b5be';c.fillText(n+' ('+pivotValues[i]+')',x.getPixelForValue(288),y.getPixelForValue(pivotValues[i]));});
    fibNames.forEach((n,i)=>{c.fillStyle=fibLabelColors[i];c.fillText(n+' ('+fibValues[i].toFixed(3)+')',x.getPixelForValue(279),y.getPixelForValue(fibValues[i]));});
    const yy=y.getPixelForValue(lastPrice),r=chart.chartArea.right;
    c.fillStyle='#ff0000';c.fillRect(r+1,yy-7,61,29);
    c.fillStyle='#fff';c.textAlign='center';c.font='12px '+FONT;
    c.fillText(lastPrice.toFixed(3),r+32,yy);
    c.fillText(countdownText,r+32,yy+14);
    c.restore();
  }};

// ---------- left + right volume profile (under the candles) ----------
const profPrices=profileUp.map((_,i)=>profileTop-profileStep*i);
const greyPrices=greyVolume.map((_,i)=>greyTop-greyStep*i);
const inVA=i=>i>=valueAreaFirst&&i<=valueAreaLast;
const greyAnchor=1951;
new Chart(document.getElementById('cVP'),{
  type:'bar',
  plugins:[crisp],
  data:{datasets:[
    {data:profPrices.map((y,i)=>({y,x:[0,profileUp[i]]})),backgroundColor:profileUp.map((_,i)=>inVA(i)?'#81c784':'#d5ebd7'),barThickness:7,grouped:false,inflateAmount:0},
    {data:profPrices.map((y,i)=>({y,x:[profileUp[i],profileUp[i]+profileDown[i]]})),backgroundColor:profileDown.map((_,i)=>inVA(i)?'#f77c74':'#fcd3d0'),barThickness:7,grouped:false,inflateAmount:0},
    {data:greyPrices.map((y,i)=>({y,x:[greyAnchor-greyVolume[i],greyAnchor]})),backgroundColor:'#e2e3e6',barThickness:2,grouped:false,inflateAmount:0}
  ]},
  options:{indexAxis:'y',responsive:false,animation:false,devicePixelRatio:1,
    layout:{autoPadding:false,padding:{left:54,right:66,top:0,bottom:0}},
    plugins:{legend:{display:false},tooltip:{enabled:false}},
    scales:{
      x:{type:'linear',display:false,min:0,max:2329,offset:false},
      y:{type:'linear',display:false,min:143.713,max:152.613,offset:false}
    }}
});

// ---------- price pane ----------
const allIdx=open.map((_,i)=>i);
const priceDatasets=[
  lineDs(pairs(outerUpX,outerUpY),'rgba(255,82,82,0.16)',1.2,60),
  lineDs(pairs(innerUpX,innerUpY),'rgba(255,82,82,0.16)',1.2,60),
  lineDs(pairs(outerLowX,outerLowY),'rgba(76,175,80,0.18)',1.2,60),
  lineDs(pairs(innerLowX,innerLowY),'rgba(76,175,80,0.18)',1.2,60),
  lineDs(pairs(maX,maY),'rgba(76,175,80,0.22)',1.6,60),
  lineDs(stepPts(upperStep),'rgba(255,82,82,0.3)',1.8,55),
  lineDs(stepPts(middleStep),'rgba(255,152,0,0.3)',1.8,55),
  lineDs(stepPts(lowerStep),'rgba(76,175,80,0.3)',1.8,55),
  ...channelStartY.map((y0,i)=>lineDs([{x:channelStartX,y:y0},{x:channelEndX,y:channelEndY[i]}],'rgba(120,123,134,0.32)',1,50)),
  lineDs(pairs(swingHighX,swingHighY),'rgba(0,0,0,0)',0,45,{showLine:false,pointRadius:5,pointBackgroundColor:'rgba(255,82,82,0.5)',pointBorderWidth:0}),
  lineDs(pairs(swingLowX,swingLowY),'rgba(0,0,0,0)',0,45,{showLine:false,pointRadius:5,pointBackgroundColor:'rgba(76,175,80,0.5)',pointBorderWidth:0}),
  ...pivotValues.map(v=>lineDs(flat(290.5,320.4,v),'rgba(120,123,134,0.7)',1.4,40)),
  ...fibValues.map((v,i)=>lineDs(flat(280.4,294.5,v),fibLineColors[i],1.3,40)),
  ...rayPrices.map((v,i)=>lineDs(flat(rayStartX[i],XMAX,v),rayColors[i],i===4?2:1.6,38)),
  {type:'bar',data:allIdx.map(i=>({x:i,y:[low[i],high[i]]})),backgroundColor:'#000',barThickness:1,grouped:false,inflateAmount:0,order:30},
  {type:'bar',data:allIdx.map(i=>({x:i,y:[open[i],close[i]]})),backgroundColor:allIdx.map(i=>isUp(i)?'#0a7d0a':'#ff0000'),barThickness:5,grouped:false,inflateAmount:0,order:20},
  lineDs(flat(0,XMAX,pocPrice),'#ff0000',2.6,10),
  lineDs(flat(0,XMAX,lastPrice),'#ff0000',1,10,{borderDash:[1,2]}),
  lineDs(pairs(forecastX,forecastY),'#3f66c8',1.2,8)
];
new Chart(document.getElementById('cPrice'),{
  type:'bar',
  plugins:[crisp,priceLabels],
  data:{datasets:priceDatasets},
  options:{responsive:false,animation:false,devicePixelRatio:1,
    layout:{autoPadding:false,padding:{left:54,right:0,top:0,bottom:0}},
    plugins:{legend:{display:false},tooltip:{enabled:false}},
    scales:{
      x:{type:'linear',display:false,min:0,max:XMAX,offset:false},
      y:{type:'linear',position:'right',min:143.713,max:152.613,afterFit:fixedWidth(66),afterBuildTicks:setTicks(priceTicks),
         grid:{display:false},border:{display:false},
         ticks:{padding:8,color:TEXT,font:{family:FONT,size:12},callback:v=>v.toFixed(3)}}
    }}
});

// ---------- oscillator pane ----------
const RED_OSC='#f8827c',GREEN_OSC='#87c98b';
new Chart(document.getElementById('cCci'),{
  type:'line',
  data:{datasets:[
    lineDs(flat(0,317.4,0),'#131722',1.4,5),
    lineDs(pairs(cciX,cciY),GREEN_OSC,3.4,1,{borderJoinStyle:'round',segment:{borderColor:c=>c.p1.parsed.y<0?RED_OSC:GREEN_OSC}})
  ]},
  options:{responsive:false,animation:false,devicePixelRatio:1,
    layout:{autoPadding:false,padding:{left:54,right:0,top:0,bottom:0}},
    plugins:{legend:{display:false},tooltip:{enabled:false}},
    scales:{
      x:{type:'linear',display:false,min:0,max:XMAX},
      y:{type:'linear',position:'right',min:-69.6,max:113,afterFit:fixedWidth(66),afterBuildTicks:setTicks(cciTicks),
         grid:{display:false},border:{display:false},
         ticks:{padding:8,color:TEXT,font:{family:FONT,size:12},callback:v=>v.toFixed(3)}}
    }}
});

// ---------- stochastic pane + time axis ----------
new Chart(document.getElementById('cStoch'),{
  type:'line',
  data:{datasets:[
    lineDs(flat(0,XMAX,stochBands[1]),'#5d606b',1.5,9,{fill:'+1',backgroundColor:'rgba(120,123,134,0.08)'}),
    lineDs(flat(0,XMAX,stochBands[2]),'#5d606b',1.5,9),
    lineDs(flat(0,XMAX,stochBands[0]),'#f44336',1.5,8),
    lineDs(flat(0,XMAX,stochBands[3]),'#4caf50',1.5,8),
    lineDs(pairs(slowGreenX,slowGreenY),'#4caf50',1,4),
    lineDs(pairs(slowRedX,slowRedY),'#f44336',1.2,3),
    lineDs(pairs(fastGreenX,fastGreenY),'#4caf50',1,2),
    lineDs(pairs(fastRedX,fastRedY),'#f44336',1,1)
  ]},
  options:{responsive:false,animation:false,devicePixelRatio:1,
    layout:{autoPadding:false,padding:0},
    plugins:{legend:{display:false},tooltip:{enabled:false}},
    scales:{
      x:{type:'linear',position:'bottom',min:0,max:XMAX,
         afterFit:s=>{s.height=27;noPad(s);},afterBuildTicks:setTicks(timeTickPos),
         grid:{display:false,drawTicks:false},border:{display:false},
         ticks:{autoSkip:false,maxRotation:0,minRotation:0,padding:6,color:TEXT,
           callback:v=>timeTickLabels[timeTickPos.indexOf(v)],
           font:c=>({family:FONT,size:12,weight:boldTimeLabels.includes(timeTickLabels[timeTickPos.indexOf(c.tick&&c.tick.value)])?'bold':'normal'})}},
      y:{type:'linear',position:'right',min:-11.1,max:112.7,afterFit:fixedWidth(66),afterBuildTicks:setTicks(stochRightTicks),
         grid:{display:false},border:{display:false},
         ticks:{padding:8,color:TEXT,font:{family:FONT,size:12},callback:v=>v.toFixed(2)}},
      yl:{type:'linear',position:'left',display:true,min:-11.1,max:112.7,afterFit:fixedWidth(54),afterBuildTicks:setTicks(stochLeftTicks),
         grid:{display:false},border:{display:false},
         ticks:{padding:8,color:TEXT,font:{family:FONT,size:12},callback:v=>v.toFixed(2)}}
    }}
});
</script>
</body>
</html>
